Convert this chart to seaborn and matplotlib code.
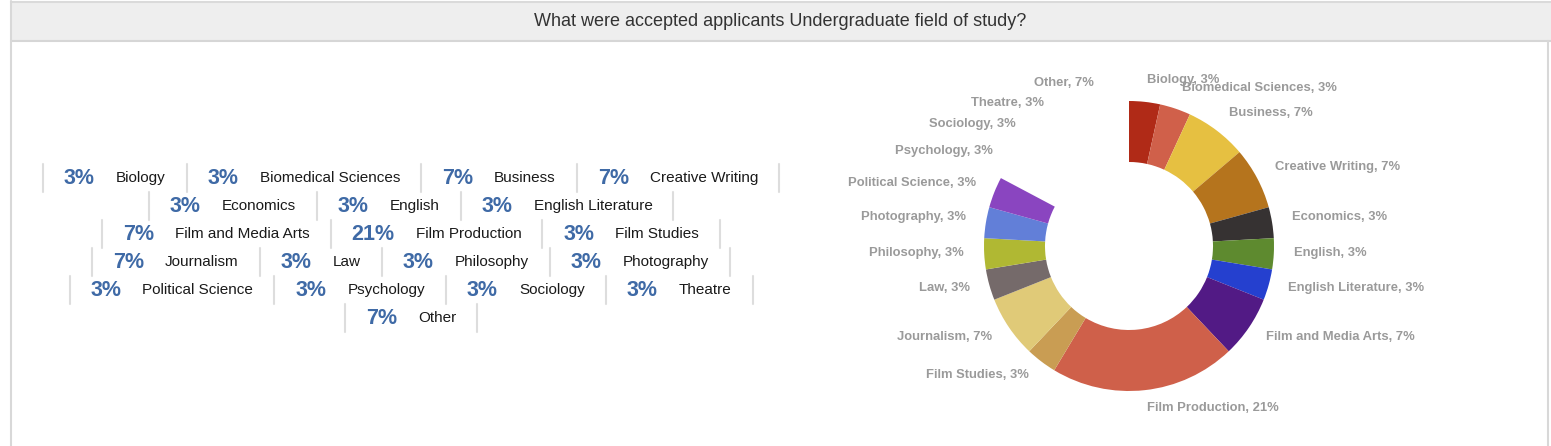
import numpy as np
import matplotlib.pyplot as plt
import seaborn as sns
from matplotlib.patches import Rectangle

# ---- data (counts out of 29 accepted applicants) ----
fields = ["Biology", "Biomedical Sciences", "Business", "Creative Writing",
          "Economics", "English", "English Literature", "Film and Media Arts",
          "Film Production", "Film Studies", "Journalism", "Law", "Philosophy",
          "Photography", "Political Science", "Psychology", "Sociology",
          "Theatre", "Other"]
counts = [1, 1, 2, 2, 1, 1, 1, 2, 6, 1, 2, 1, 1, 1, 1, 1, 1, 1, 2]
slice_colors = ["#b02a17", "#d0604a", "#e6c041", "#b5741d", "#363232",
                "#5e8a2f", "#2540cf", "#521a85", "#cf604a", "#c99d53",
                "#e0ca78", "#756a6a", "#b0b833", "#627fd8", "#8a45c0",
                "#c0c0c0", "#c0c0c0", "#c0c0c0", "#c0c0c0"]
title = "What were accepted applicants Undergraduate field of study?"

# layout settings (not data)
drawn_slices = 15            # the source only rendered the first 15 slices
legend_rows = [4, 3, 3, 4, 4, 1]
W, H = 1551, 446
cx, cy, r_out, r_in = 1129, 246, 145, 84
label_r = 165

total = sum(counts)
pcts = [f"{round(100 * c / total)}%" for c in counts]

sns.set_theme(style="white")
plt.rcParams['font.family'] = ['Liberation Sans', 'DejaVu Sans']

fig = plt.figure(figsize=(W / 100, H / 100), dpi=100)
ax = fig.add_axes([0, 0, 1, 1])

# ---- card frame / header ----
ax.add_patch(Rectangle((11, 1), W - 11, 40, facecolor="#eeeeee", edgecolor="none"))
ax.plot([11, W], [1.5, 1.5], color="#dadada", lw=1.5)
ax.plot([11, W], [41, 41], color="#d6d6d6", lw=1.5)
ax.plot([11, 11], [1, H], color="#d8d8d8", lw=1.5)
ax.plot([1548, 1548], [41, H], color="#d8d8d8", lw=1.5)
ax.text(780, 21, title, ha="center", va="center", fontsize=13, color="#333333")

# ---- donut ----
wedges, _ = ax.pie(counts, colors=slice_colors, startangle=-90, counterclock=True,
                   radius=r_out, center=(cx, cy),
                   wedgeprops=dict(width=r_out - r_in, linewidth=0))
for w in wedges[drawn_slices:]:
    w.set_visible(False)

cum = np.cumsum([0] + counts[:-1])
for name, p, c0, c in zip(fields, pcts, cum, counts):
    theta = np.deg2rad(360 * (c0 + c / 2) / total)
    lx = cx + label_r * np.sin(theta)
    ly = cy - label_r * np.cos(theta) - 2
    ax.text(lx, ly, f"{name}, {p}", ha="left" if np.sin(theta) >= 0 else "right",
            va="center", fontsize=9.4, fontweight="bold", color="#9a9a9a")

# ---- legend grid ----
renderer = fig.canvas.get_renderer()
pad, gap = 21, 21
row_center_x, row_y0, row_step = 411, 178, 28
idx = 0
for r, n in enumerate(legend_rows):
    y = row_y0 + r * row_step
    items = []
    for i in range(idx, idx + n):
        tp = ax.text(0, y, pcts[i], ha="left", va="center", fontsize=15.5,
                     fontweight="bold", color="#3f6aa6")
        tn = ax.text(0, y, fields[i], ha="left", va="center", fontsize=11, color="#1a1a1a")
        wp = tp.get_window_extent(renderer).width
        wn = tn.get_window_extent(renderer).width
        items.append((tp, tn, wp, wn, pad + wp + gap + wn + pad))
    idx += n
    x = row_center_x - sum(it[4] for it in items) / 2
    ax.plot([x, x], [y - 14.5, y + 13.5], color="#dddddd", lw=1.5)
    for tp, tn, wp, wn, wi in items:
        tp.set_position((x + pad, y))
        tn.set_position((x + pad + wp + gap, y))
        x += wi
        ax.plot([x, x], [y - 14.5, y + 13.5], color="#dddddd", lw=1.5)

ax.set_xlim(0, W)
ax.set_ylim(H, 0)
ax.set_aspect("auto")
ax.axis("off")

fig.savefig("out.png", dpi=100)
